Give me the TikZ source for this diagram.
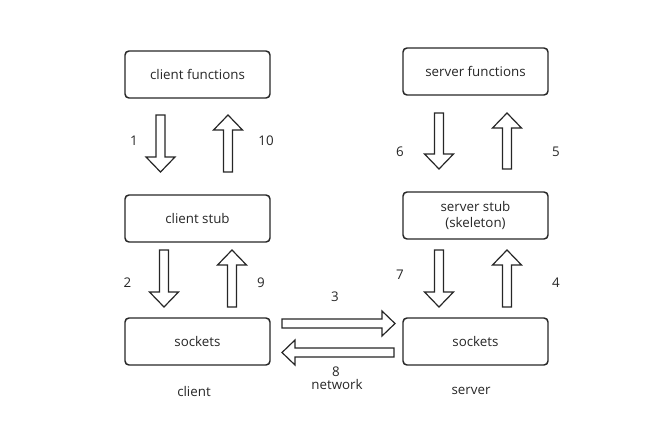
\documentclass[tikz,border=0pt]{standalone}
\usepackage{fontspec}
\setmainfont{Open Sans}
\begin{document}
\begin{tikzpicture}[x=0.75pt,y=-0.75pt,
  box/.style={draw=black!85,line width=1.1pt,rounded corners=3pt,minimum width=108.75pt,minimum height=35.25pt,inner sep=0pt,align=center,font=\fontsize{10}{12}\selectfont,text=black!85},
  lbl/.style={inner sep=0pt,font=\fontsize{10}{12}\selectfont,text=black!85},
  blk/.style={draw=black!85,line width=0.9pt,fill=white,line join=miter}]
\useasboundingbox (0,0) rectangle (668,443);
\newcommand\DArrow[3]{\draw[blk] (#1-4.5,#2) -- (#1+4.5,#2) -- (#1+4.5,#3-15) -- (#1+14.5,#3-15) -- (#1,#3) -- (#1-14.5,#3-15) -- (#1-4.5,#3-15) -- cycle;}
\newcommand\UArrow[3]{\draw[blk] (#1-4.5,#3) -- (#1+4.5,#3) -- (#1+4.5,#2+15) -- (#1+14.5,#2+15) -- (#1,#2) -- (#1-14.5,#2+15) -- (#1-4.5,#2+15) -- cycle;}
\newcommand\RArrow[3]{\draw[blk] (#1,#3-4.5) -- (#1,#3+4.5) -- (#2-13,#3+4.5) -- (#2-13,#3+12.5) -- (#2,#3) -- (#2-13,#3-12.5) -- (#2-13,#3-4.5) -- cycle;}
\newcommand\LArrow[3]{\draw[blk] (#2,#3-4.5) -- (#2,#3+4.5) -- (#1+13,#3+4.5) -- (#1+13,#3+12.5) -- (#1,#3) -- (#1+13,#3-12.5) -- (#1+13,#3-4.5) -- cycle;}
% boxes
\node[box] (cf) at (197.5,74.5) {client functions};
\node[box] (cs) at (197.5,218.5) {client stub};
\node[box] (ck) at (197.5,341.5) {sockets};
\node[box] (sf) at (475.5,71.5) {server functions};
\node[box] (ss) at (475.5,215.5) {server stub\\(skeleton)};
\node[box] (sk) at (475.5,341.5) {sockets};
% block arrows
\DArrow{160.5}{115}{172}
\UArrow{228}{115}{172}
\DArrow{164}{250}{307}
\UArrow{232}{250}{307}
\DArrow{439}{113}{169}
\UArrow{507}{113}{169}
\DArrow{439}{250}{307}
\UArrow{507}{250}{307}
\RArrow{282}{395}{323.5}
\LArrow{282}{394}{352.5}
% labels
\node[lbl] (l1) at (134,141) {1};
\node[lbl] (l10) at (266,141) {10};
\node[lbl] (l2) at (127.5,283) {2};
\node[lbl] (l9) at (261,283) {9};
\node[lbl] (l6) at (400,152) {6};
\node[lbl] (l5) at (556,152) {5};
\node[lbl] (l7) at (400,275) {7};
\node[lbl] (l4) at (556,283) {4};
\node[lbl] (l3) at (335,297) {3};
\node[lbl] (l8) at (336,372) {8};
\node[lbl] (net) at (337,384) {network};
\node[lbl] (cl) at (194,391) {client};
\node[lbl] (sv) at (471,391) {server};
\end{tikzpicture}
\end{document}
